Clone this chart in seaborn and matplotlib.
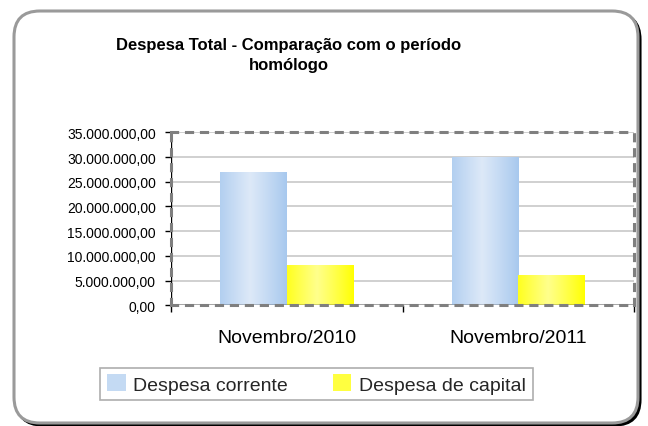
import numpy as np
import pandas as pd
import matplotlib
matplotlib.use("Agg")
import matplotlib.pyplot as plt
import seaborn as sns
from matplotlib.patches import FancyBboxPatch, Patch
from matplotlib.colors import to_rgb
from matplotlib.ticker import FuncFormatter, MultipleLocator

# ---- data ----
categories = ["Novembro/2010", "Novembro/2011"]
series_names = ["Despesa corrente", "Despesa de capital"]
despesa_corrente = [27000000, 30000000]
despesa_capital = [8100000, 6100000]
title = "Despesa Total - Comparação com o período\nhomólogo"

df = pd.DataFrame({
    "periodo": categories * 2,
    "serie": [series_names[0]] * 2 + [series_names[1]] * 2,
    "valor": despesa_corrente + despesa_capital,
})

sns.set_theme(style="white")
plt.rcParams["font.family"] = ["Liberation Sans", "DejaVu Sans"]

W, H = 648, 427
fig = plt.figure(figsize=(W / 100, H / 100), dpi=100)
fig.patch.set_facecolor("white")

# outer rounded frame with shadow
shadow = FancyBboxPatch((14 / W + 2.5 / W, 1 - 424 / H - 2.5 / H), 624 / W, 412 / H,
                        boxstyle="round,pad=0,rounding_size=0.04",
                        transform=fig.transFigure, facecolor="black", edgecolor="black",
                        linewidth=1.5, zorder=-2, mutation_aspect=W / H)
frame = FancyBboxPatch((14 / W, 1 - 424 / H), 624 / W, 412 / H,
                       boxstyle="round,pad=0,rounding_size=0.04",
                       transform=fig.transFigure, facecolor="white", edgecolor="#9a9a9a",
                       linewidth=2.2, zorder=-1, mutation_aspect=W / H)
fig.patches.extend([shadow, frame])

left, right, top, bottom = 171, 634.3, 133.3, 306.3
ax = fig.add_axes([left / W, 1 - bottom / H, (right - left) / W, (bottom - top) / H])
ax.set_facecolor("none")
ax.set_zorder(1)

blue_edge, blue_mid = "#A7C8EE", "#DDE9F8"
yel_edge, yel_mid = "#FFFF00", "#FFFF8C"
palette = {series_names[0]: blue_edge, series_names[1]: yel_edge}

sns.barplot(data=df, x="periodo", y="valor", hue="serie", order=categories,
            hue_order=series_names, palette=palette, width=0.578, gap=0,
            saturation=1, ax=ax, legend=False, zorder=3, linewidth=0)

ax.set_ylim(0, 35000000)
ax.set_xlim(-0.5, 1.5)

# gradient fill clipped to each bar
def gradient(edge, mid, n=64):
    e = np.array(to_rgb(edge)); m = np.array(to_rgb(mid))
    x = np.linspace(0, 1, n)
    f = np.clip(1 - np.abs(x - 0.45) / 0.55, 0, 1) ** 0.9
    return (e[None, :] * (1 - f[:, None]) + m[None, :] * f[:, None])[None, :, :]

for i, p in enumerate(list(ax.patches)):
    x0, y0 = p.get_x(), p.get_y()
    w, h = p.get_width(), p.get_height()
    if h <= 0:
        continue
    fc = p.get_facecolor()
    is_blue = abs(fc[2] - to_rgb(blue_edge)[2]) < 0.05
    g = gradient(blue_edge, blue_mid) if is_blue else gradient(yel_edge, yel_mid)
    im = ax.imshow(g, extent=[x0, x0 + w, y0, y0 + h], aspect="auto", zorder=3.5,
                   interpolation="bilinear")
    im.set_clip_path(p)

ax.set_xlim(-0.5, 1.5)
ax.set_ylim(0, 35000000)

# grid
ax.yaxis.set_major_locator(MultipleLocator(5000000))
ax.grid(axis="y", color="#C8C8C8", linewidth=1.2, zorder=1)
ax.grid(axis="x", visible=False)
ax.set_axisbelow(True)

def fmt(v, pos):
    s = f"{v:,.2f}"
    return s.replace(",", "X").replace(".", ",").replace("X", ".")
ax.yaxis.set_major_formatter(FuncFormatter(fmt))

# dashed plot-area border
for s in ["top", "right", "left", "bottom"]:
    ax.spines[s].set_visible(True)
    ax.spines[s].set_color("#7f7f7f")
    ax.spines[s].set_linewidth(2.2)
    ax.spines[s].set_linestyle((0, (2, 2.9)))
    ax.spines[s].set_zorder(5)
ax.axvline(-0.5, color="black", linewidth=1.0, zorder=4.8)
ax.axhline(0, color="black", linewidth=1.0, zorder=4.8)

ax.set_xlabel("")
ax.set_ylabel("")
ax.tick_params(axis="y", which="major", direction="out", length=4, width=1,
               color="black", pad=7, labelsize=10, labelcolor="black", left=True)
ax.set_xticks([0, 1])
ax.set_xticklabels(categories)
ax.set_xticks([-0.5, 0.5, 1.5], minor=True)
ax.tick_params(axis="x", which="major", length=0, pad=17, labelsize=14, labelcolor="black")
ax.tick_params(axis="x", which="minor", direction="out", length=5, width=1,
               color="black", bottom=True)

fig.text(288.5 / W, 1 - 55.5 / H, title, ha="center", va="center", fontsize=12,
         fontweight="bold", linespacing=1.45, color="black")

handles = [Patch(facecolor="#C4DAF3", edgecolor="none"),
           Patch(facecolor="#FFFF40", edgecolor="none")]
leg = fig.legend(handles, series_names, loc="center", ncol=2,
                 bbox_to_anchor=(316.5 / W, 1 - 385 / H), fontsize=14, frameon=True,
                 fancybox=False, edgecolor="#9a9a9a", handlelength=0.95, handleheight=0.95,
                 handletextpad=0.4, columnspacing=2.3, borderpad=0.35,
                 borderaxespad=0)
leg.get_frame().set_linewidth(1.2)

fig.savefig("out.png", dpi=100)
